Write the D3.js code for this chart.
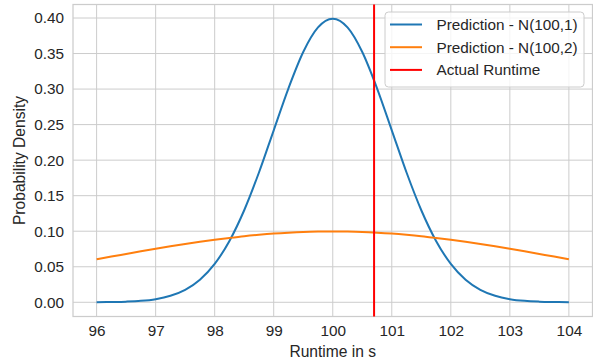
<!DOCTYPE html>
<html>
<head>
<meta charset="utf-8">
<script src="https://cdn.jsdelivr.net/npm/d3@7"></script>
<style>
  html, body { margin: 0; padding: 0; background: #fff; }
  svg { display: block; font-family: "Liberation Sans", Arial, sans-serif; }
  .grid line { stroke: #cccccc; stroke-width: 1; }
  .tick text { fill: #262626; font-size: 15.3px; }
  .lbl { fill: #262626; font-size: 15.6px; }
</style>
</head>
<body>
<svg id="chart" width="593" height="362"></svg>
<script>
// runtime samples (s) at quarter-second steps
const runtimes = [96, 96.25, 96.5, 96.75, 97, 97.25, 97.5, 97.75, 98, 98.25, 98.5, 98.75,
  99, 99.25, 99.5, 99.75, 100, 100.25, 100.5, 100.75, 101, 101.25, 101.5, 101.75,
  102, 102.25, 102.5, 102.75, 103, 103.25, 103.5, 103.75, 104];

const densityNarrow = [0.0001, 0.0004, 0.0009, 0.0020, 0.0044, 0.0091, 0.0175, 0.0317,
  0.0540, 0.0863, 0.1295, 0.1826, 0.2420, 0.3011, 0.3521, 0.3867, 0.3989,
  0.3867, 0.3521, 0.3011, 0.2420, 0.1826, 0.1295, 0.0863, 0.0540, 0.0317,
  0.0175, 0.0091, 0.0044, 0.0020, 0.0009, 0.0004, 0.0001];

const densityWide = [0.0605, 0.0643, 0.0680, 0.0717, 0.0753, 0.0787, 0.0820, 0.0851,
  0.0880, 0.0906, 0.0930, 0.0950, 0.0967, 0.0980, 0.0990, 0.0995, 0.0997,
  0.0995, 0.0990, 0.0980, 0.0967, 0.0950, 0.0930, 0.0906, 0.0880, 0.0851,
  0.0820, 0.0787, 0.0753, 0.0717, 0.0680, 0.0643, 0.0605];

const actualRuntime = 100.7;

const xTicks = [96, 97, 98, 99, 100, 101, 102, 103, 104];
const yTicks = [0, 0.05, 0.10, 0.15, 0.20, 0.25, 0.30, 0.35, 0.40];

const seriesNames = ["Prediction - N(100,1)", "Prediction - N(100,2)", "Actual Runtime"];
const seriesColors = ["#1f77b4", "#ff7f0e", "#ff0000"];

const W = 593, H = 362;
const m = { left: 73, right: 0.5, top: 4.5, bottom: 45.5 };

const svg = d3.select("#chart");

const x = d3.scaleLinear().domain([95.6, 104.4]).range([m.left, W - m.right]);
const y = d3.scaleLinear().domain([-0.02, 0.419]).range([H - m.bottom, m.top]);

// grid + frame
const grid = svg.append("g").attr("class", "grid");
grid.selectAll("line.gx").data(xTicks).join("line")
  .attr("x1", d => x(d)).attr("x2", d => x(d))
  .attr("y1", y.range()[1]).attr("y2", y.range()[0]);
grid.selectAll("line.gy").data(yTicks).join("line")
  .attr("x1", x.range()[0]).attr("x2", x.range()[1])
  .attr("y1", d => y(d)).attr("y2", d => y(d));
svg.append("rect")
  .attr("x", x.range()[0]).attr("y", y.range()[1])
  .attr("width", x.range()[1] - x.range()[0])
  .attr("height", y.range()[0] - y.range()[1])
  .attr("fill", "none").attr("stroke", "#cccccc").attr("stroke-width", 1.25);

// axes (labels only, seaborn whitegrid has no tick marks)
const xAxis = svg.append("g")
  .attr("transform", `translate(0,${y.range()[0]})`)
  .call(d3.axisBottom(x).tickValues(xTicks).tickFormat(d3.format("d")).tickSize(0).tickPadding(9));
const yAxis = svg.append("g")
  .attr("transform", `translate(${x.range()[0]},0)`)
  .call(d3.axisLeft(y).tickValues(yTicks).tickFormat(d3.format(".2f")).tickSize(0).tickPadding(9));
[xAxis, yAxis].forEach(a => a.select(".domain").remove());

// curves
const line = d3.line().x(d => x(d[0])).y(d => y(d[1])).curve(d3.curveMonotoneX);
[densityNarrow, densityWide].forEach((vals, i) => {
  svg.append("path")
    .datum(runtimes.map((r, j) => [r, vals[j]]))
    .attr("d", line)
    .attr("fill", "none")
    .attr("stroke", seriesColors[i])
    .attr("stroke-width", 2);
});

svg.append("line")
  .attr("x1", x(actualRuntime)).attr("x2", x(actualRuntime))
  .attr("y1", y.range()[1]).attr("y2", y.range()[0])
  .attr("stroke", seriesColors[2]).attr("stroke-width", 2);

// axis labels
svg.append("text").attr("class", "lbl")
  .attr("x", (x.range()[0] + x.range()[1]) / 2).attr("y", 357)
  .attr("text-anchor", "middle").text("Runtime in s");
svg.append("text").attr("class", "lbl")
  .attr("transform", `translate(25,${(y.range()[0] + y.range()[1]) / 2}) rotate(-90)`)
  .attr("text-anchor", "middle").text("Probability Density");

// legend
const lg = svg.append("g").attr("transform", "translate(385,12)");
lg.append("rect")
  .attr("width", 199).attr("height", 75).attr("rx", 3.5)
  .attr("fill", "#fff").attr("fill-opacity", 0.8)
  .attr("stroke", "#cccccc").attr("stroke-width", 1);
const rows = lg.selectAll("g.row").data(seriesNames).join("g")
  .attr("transform", (d, i) => `translate(0,${12.5 + i * 22.7})`);
rows.append("line")
  .attr("x1", 5).attr("x2", 37)
  .attr("stroke", (d, i) => seriesColors[i]).attr("stroke-width", 2);
rows.append("text")
  .attr("x", 51.5).attr("dy", "0.35em")
  .attr("fill", "#262626").style("font-size", "15.3px")
  .text(d => d);
</script>
</body>
</html>
